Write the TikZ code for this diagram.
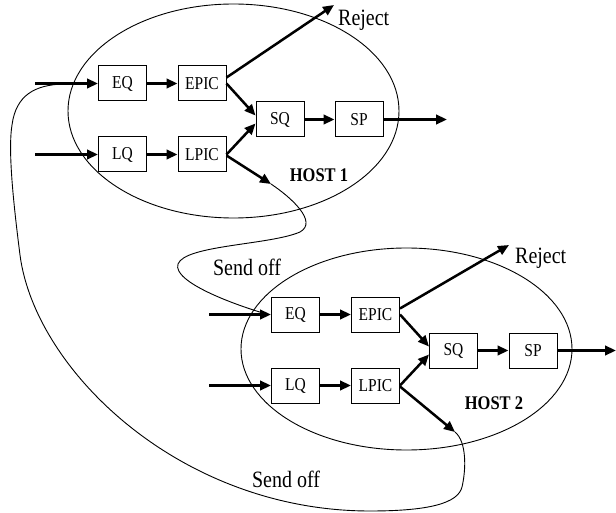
\documentclass[tikz,border=0pt]{standalone}
\usepackage{graphicx}
\usepackage{fontspec}
\setmainfont{Liberation Serif}
\usetikzlibrary{shapes.geometric,arrows.meta}
\newcommand\vst[1]{\scalebox{1}[1.17]{#1}}
\begin{document}
\begin{tikzpicture}[x=1pt,y=-1pt,
  box/.style={draw,line width=1pt,minimum width=48pt,minimum height=35pt,inner sep=0pt,font=\fontsize{15.5}{16}\selectfont},
  host/.style={draw,ellipse,line width=0.9pt,inner sep=0pt,minimum width=331pt},
  flow/.style={line width=2.5pt,-{Triangle[length=11pt,width=9.5pt]}},
  curve/.style={line width=0.9pt},
  lbl/.style={font=\fontsize{20}{22}\selectfont,inner sep=0pt},
  hostlbl/.style={font=\fontsize{16.5}{18}\selectfont\bfseries,inner sep=0pt}]
\useasboundingbox (0,0) rectangle (616,513);
% HOST 1
\node[host,minimum height=214pt] (h1) at (233.5,111) {};
\node[box] (eq1) at (122.5,83.5) {\vst{EQ}};
\node[box] (epic1) at (202,83.5) {\vst{EPIC}};
\node[box] (sq1) at (280,119.5) {\vst{SQ}};
\node[box] (sp1) at (359,119.5) {\vst{SP}};
\node[box] (lq1) at (122.5,154.5) {\vst{LQ}};
\node[box] (lpic1) at (202,154.5) {\vst{LPIC}};
\coordinate (in1e) at (35,83.5);
\coordinate (in1l) at (35,154.5);
\coordinate (rej1) at (334,5);
\coordinate (out1) at (447,119.5);
\coordinate (so1) at (271,184);
\node[lbl,anchor=west] (rej1l) at (338,20) {\vst{Reject}};
\node[hostlbl] (h1l) at (319,175) {\vst{HOST 1}};
\draw[flow] (in1e) -- (eq1);
\draw[flow] (in1l) -- (lq1);
\draw[flow] (eq1) -- (epic1);
\draw[flow] (lq1) -- (lpic1);
\draw[flow] ([yshift=6pt]epic1.east) -- (rej1);
\draw[flow] (epic1.east) -- ([yshift=4pt]sq1.west);
\draw[flow] (lpic1.east) -- ([yshift=-4pt]sq1.west);
\draw[flow] (sq1) -- (sp1);
\draw[flow] (sp1) -- (out1);
\draw[flow] ([yshift=-1pt]lpic1.east) -- (so1);
% HOST 2
\node[host,minimum height=202pt] (h2) at (406.5,349) {};
\node[box] (eq2) at (295.5,314.5) {\vst{EQ}};
\node[box] (epic2) at (375.5,314.5) {\vst{EPIC}};
\node[box] (sq2) at (453.5,350.5) {\vst{SQ}};
\node[box] (sp2) at (533,350.5) {\vst{SP}};
\node[box] (lq2) at (295.5,385.5) {\vst{LQ}};
\node[box] (lpic2) at (375.5,385.5) {\vst{LPIC}};
\coordinate (in2e) at (209,314.5);
\coordinate (in2l) at (209,385.5);
\coordinate (rej2) at (509,245);
\coordinate (out2) at (616,350.5);
\coordinate (so2) at (455,432);
\node[lbl,anchor=west] (rej2l) at (515,258) {\vst{Reject}};
\node[hostlbl] (h2l) at (494,403) {\vst{HOST 2}};
\draw[flow] (in2e) -- (eq2);
\draw[flow] (in2l) -- (lq2);
\draw[flow] (eq2) -- (epic2);
\draw[flow] (lq2) -- (lpic2);
\draw[flow] ([yshift=6pt]epic2.east) -- (rej2);
\draw[flow] (epic2.east) -- ([yshift=4pt]sq2.west);
\draw[flow] (lpic2.east) -- ([yshift=-4pt]sq2.west);
\draw[flow] (sq2) -- (sp2);
\draw[flow] (sp2) -- (out2);
\draw[flow] ([yshift=-1pt]lpic2.east) -- (so2);
% Send off curves
\coordinate (j2) at (268,314.5);
\coordinate (j1) at (63,84);
\node[lbl] (sol1) at (247,267) {\vst{Send off}};
\node[lbl] (sol2) at (286,479) {\vst{Send off}};
\draw[curve] (so1) .. controls (292,198) and (318,222) .. (300,232)
  .. controls (270,245) and (185,245) .. (178,264)
  .. controls (172,282) and (235,305) .. (j2);
\draw[curve] (so2) .. controls (467,442) and (466,470) .. (462,487)
  .. controls (458,503) and (430,511) .. (370,511)
  .. controls (180,511) and (35,370) .. (20,255)
  .. controls (13,200) and (8,150) .. (12,125)
  .. controls (16,95) and (35,85) .. (j1);
\end{tikzpicture}
\end{document}
